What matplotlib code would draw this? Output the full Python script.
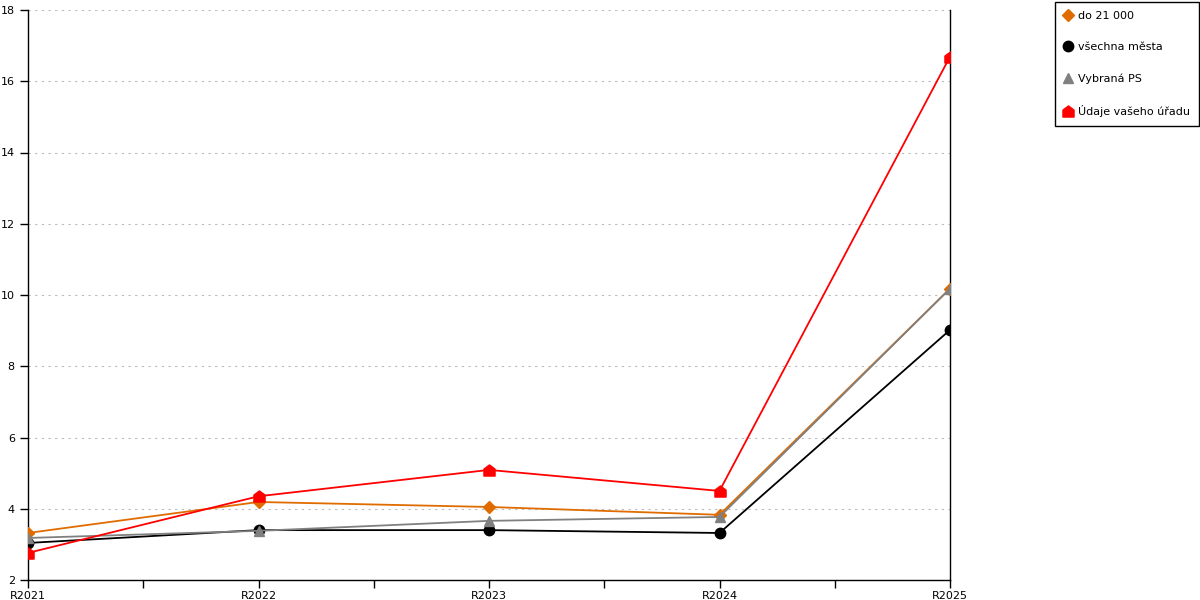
import matplotlib.pyplot as plt
from matplotlib.path import Path
from matplotlib.lines import Line2D

years = ["R2021", "R2022", "R2023", "R2024", "R2025"]
do_21000 = [3.32, 4.19, 4.05, 3.83, 10.18]
vsechna_mesta = [3.04, 3.40, 3.40, 3.32, 9.02]
vybrana_ps = [3.18, 3.38, 3.66, 3.77, 10.18]
vas_urad = [2.76, 4.35, 5.09, 4.50, 16.69]

labels = ["do 21 000", "všechna města", "Vybraná PS", "Údaje vašeho úřadu"]
colors = ["#E06C00", "#000000", "#808080", "#FF0000"]

house = Path([(-1, -1), (1, -1), (1, 0.25), (0, 1), (-1, 0.25), (-1, -1)],
             [Path.MOVETO, Path.LINETO, Path.LINETO, Path.LINETO, Path.LINETO,
              Path.CLOSEPOLY])
markers = ["D", "o", "^", house]
sizes = [6, 7.5, 7.5, 8]

fig = plt.figure(figsize=(12, 6), dpi=100)
ax = fig.add_axes([28 / 1200, 20 / 600, 922 / 1200, 570 / 600])

x = list(range(len(years)))
series = [do_21000, vsechna_mesta, vybrana_ps, vas_urad]
order = [1, 2, 0, 3]
for i in order:
    ax.plot(x, series[i], color=colors[i], lw=1.3, marker=markers[i],
            ms=sizes[i], mec=colors[i], mfc=colors[i], zorder=3 + i)

ax.set_xlim(0, 4)
ax.set_ylim(2, 18)
ax.set_yticks(range(2, 19, 2))
ax.set_xticks(x)
ax.set_xticklabels(years)
ax.set_xticks([0.5, 1.5, 2.5, 3.5], minor=True)
ax.tick_params(axis="both", labelsize=8, direction="out", length=6, width=1)
ax.tick_params(axis="x", which="minor", length=6, width=1)
ax.tick_params(axis="x", pad=2)
ax.grid(axis="y", ls=(0, (2, 4)), color="#bbbbbb", lw=0.8)
ax.spines["top"].set_visible(False)
for s in ("left", "bottom", "right"):
    ax.spines[s].set_linewidth(1)

handles = [Line2D([], [], ls="none", marker=markers[i], ms=sizes[i],
                  color=colors[i]) for i in range(4)]
leg = fig.legend(handles, labels, loc="upper left",
                 bbox_to_anchor=(1055 / 1200, 1 - 2 / 600), fontsize=8,
                 labelspacing=1.9, handlelength=0.8, handletextpad=0.5,
                 borderpad=0.8, borderaxespad=0, fancybox=False,
                 edgecolor="black", framealpha=1)
leg.get_frame().set_linewidth(1)

fig.savefig("out.png", dpi=100)
